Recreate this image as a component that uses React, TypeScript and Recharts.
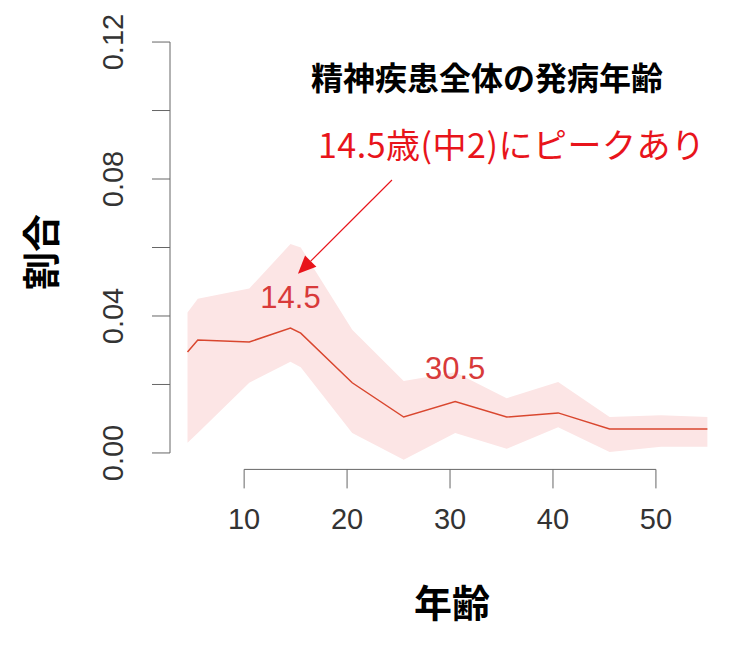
import React from 'react';
import { ComposedChart, Area, Line, XAxis, YAxis, ReferenceLine, ReferenceDot } from 'recharts';

// 発病年齢 (x) と割合 (y)、信頼帯の上下限
const ages = [4.5, 5.5, 10.5, 14.5, 15.5, 20.5, 25.5, 30.5, 35.5, 40.5, 45.5, 50.5, 55];
const rate = [0.0295, 0.033, 0.0324, 0.0365, 0.035, 0.0205, 0.0105, 0.015, 0.0105, 0.0117, 0.007, 0.007, 0.007];
const upper = [0.041, 0.045, 0.048, 0.061, 0.06, 0.036, 0.021, 0.0236, 0.016, 0.0207, 0.0105, 0.011, 0.0105];
const lower = [0.003, 0.0058, 0.0205, 0.0266, 0.025, 0.0058, -0.002, 0.0058, 0.0012, 0.0075, 0.0003, 0.0018, 0.0018];

const xTicks = [10, 20, 30, 40, 50];
const yTicks = [0, 0.02, 0.04, 0.06, 0.08, 0.1, 0.12];
const yLabelled = [0, 0.04, 0.08, 0.12];

const peakLabels = ['14.5', '30.5'];
const peakLabelAt = [
  { x: 14.5, y: 0.0455 },
  { x: 30.5, y: 0.0248 },
];
const arrowFrom = { x: 24.36, y: 0.0797 };
const arrowTo = { x: 15.23, y: 0.0523 };

const data = ages.map((age, i) => ({ age, rate: rate[i], band: [lower[i], upper[i]] }));

const AXIS = '#666';
const TICK_TEXT = '#333';
const NUM_FONT = '"Liberation Sans", Arial, sans-serif';
const JP_FONT = '"Noto Sans CJK JP", sans-serif';

const XTick = (props: any) => {
  const { x, y, payload } = props;
  return (
    <text x={x} y={y + 33} textAnchor="middle" fontSize={29} fontFamily={NUM_FONT} fill={TICK_TEXT}>
      {payload.value}
    </text>
  );
};

const YTick = (props: any) => {
  const { x, y, payload } = props;
  if (!yLabelled.some((v) => Math.abs(v - payload.value) < 1e-9)) return <g />;
  const cx = x - 31;
  return (
    <text
      x={cx}
      y={y}
      transform={`rotate(-90, ${cx}, ${y})`}
      textAnchor="middle"
      dominantBaseline="central"
      fontSize={29}
      fontFamily={NUM_FONT}
      fill={TICK_TEXT}
    >
      {payload.value.toFixed(2)}
    </text>
  );
};

const Arrow = (props: any) => {
  const { x1, y1, x2, y2 } = props;
  const ang = Math.atan2(y2 - y1, x2 - x1);
  const len = 18;
  const half = 8;
  const bx = x2 - len * Math.cos(ang);
  const by = y2 - len * Math.sin(ang);
  const px = -Math.sin(ang) * half;
  const py = Math.cos(ang) * half;
  return (
    <g>
      <line x1={x1} y1={y1} x2={bx} y2={by} stroke="#e8141b" strokeWidth={1.2} />
      <polygon points={`${x2},${y2} ${bx + px},${by + py} ${bx - px},${by - py}`} fill="#e8141b" />
    </g>
  );
};

const peakText = (label: string) => (props: any) => (
  <text
    x={props.cx}
    y={props.cy}
    textAnchor="middle"
    dominantBaseline="central"
    fontSize={31}
    fontFamily={NUM_FONT}
    fill="#d83a3a"
  >
    {label}
  </text>
);

export default function App() {
  return (
    <div style={{ position: 'relative', width: 742, height: 648 }}>
      <ComposedChart
        width={742}
        height={648}
        data={data}
        margin={{ top: 17.6, right: 22, bottom: 86.6, left: 62 }}
      >
        <XAxis
          dataKey="age"
          type="number"
          domain={[2.8, 57]}
          ticks={xTicks}
          allowDataOverflow
          axisLine={false}
          tickLine={{ stroke: AXIS }}
          tickSize={19}
          tickMargin={8}
          height={100}
          tick={<XTick />}
        />
        <YAxis
          type="number"
          domain={[-0.0048, 0.1248]}
          ticks={yTicks}
          allowDataOverflow
          axisLine={false}
          tickLine={{ stroke: AXIS }}
          tickSize={18}
          tickMargin={8}
          width={100}
          tick={<YTick />}
        />
        <Area
          dataKey="band"
          type="linear"
          stroke="none"
          fill="#fce5e5"
          fillOpacity={1}
          isAnimationActive={false}
          activeDot={false}
        />
        <Line
          dataKey="rate"
          type="linear"
          stroke="#d9472f"
          strokeWidth={1.5}
          dot={false}
          activeDot={false}
          isAnimationActive={false}
        />
        <ReferenceLine
          segment={[{ x: xTicks[0], y: -0.0048 }, { x: xTicks[xTicks.length - 1], y: -0.0048 }]}
          stroke={AXIS}
          strokeWidth={1}
          ifOverflow="visible"
        />
        <ReferenceLine
          segment={[{ x: 2.8, y: yTicks[0] }, { x: 2.8, y: yTicks[yTicks.length - 1] }]}
          stroke={AXIS}
          strokeWidth={1}
          ifOverflow="visible"
        />
        <ReferenceLine
          segment={[arrowFrom, arrowTo]}
          ifOverflow="visible"
          shape={<Arrow />}
        />
        {peakLabels.map((label, i) => (
          <ReferenceDot
            key={label}
            x={peakLabelAt[i].x}
            y={peakLabelAt[i].y}
            r={0}
            ifOverflow="visible"
            shape={peakText(label)}
          />
        ))}
      </ComposedChart>
      <svg
        width={742}
        height={648}
        style={{ position: 'absolute', left: 0, top: 0, pointerEvents: 'none' }}
      >
        <text x={479} y={68} textAnchor="middle" dominantBaseline="central" fontSize={32} fontWeight="bold" fontFamily={JP_FONT} fill="#000">
          精神疾患全体の発病年齢
        </text>
        <text x={310} y={135} dominantBaseline="central" fontSize={34} letterSpacing={0.5} fontFamily={JP_FONT} fill="#e8141b">
          14.5歳(中2)にピークあり
        </text>
        <text x={444} y={592} textAnchor="middle" dominantBaseline="central" fontSize={38} fontWeight="bold" fontFamily={JP_FONT} fill="#000">
          年齢
        </text>
        <text
          x={30}
          y={244}
          transform="rotate(-90, 30, 244)"
          textAnchor="middle"
          dominantBaseline="central"
          fontSize={38}
          fontWeight="bold"
          fontFamily={JP_FONT}
          fill="#000"
        >
          割合
        </text>
      </svg>
    </div>
  );
}
